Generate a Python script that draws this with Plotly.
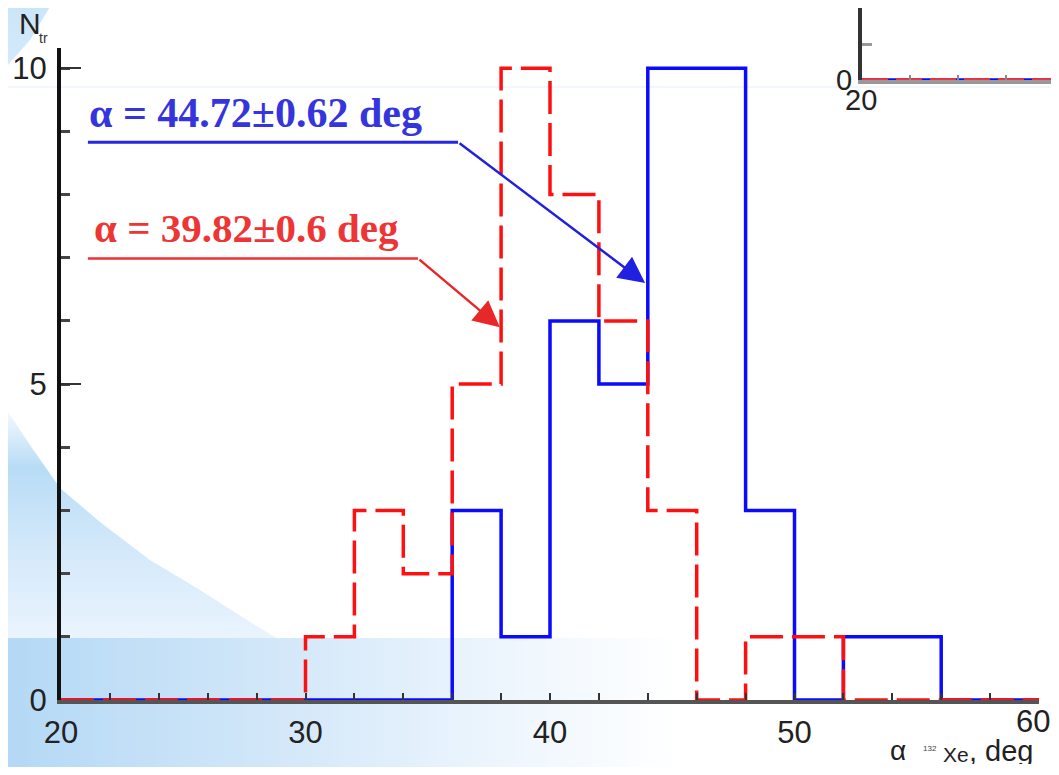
import plotly.graph_objects as go

# ---------------- data ----------------
bin_edges = [20, 22, 24, 26, 28, 30, 32, 34, 36, 38, 40, 42, 44, 46, 48, 50, 52, 54, 56, 58, 60]
blue_counts = [0, 0, 0, 0, 0, 0, 0, 0, 3, 1, 6, 5, 10, 10, 3, 0, 1, 1, 0, 0]
red_counts = [0, 0, 0, 0, 0, 1, 3, 2, 5, 10, 8, 6, 3, 0, 1, 1, 0, 0, 0, 0]

inset_edges = [20, 22, 24, 26, 28, 30]
inset_blue = [0, 0, 0, 0, 0]
inset_red = [0, 0, 0, 0, 0]

x_tick_vals = [20, 30, 40, 50, 60]
x_tick_text = ["20", "30", "40", "50", ""]   # "60" drawn as an edge-anchored label
last_x_label = "60"
y_tick_vals = [0, 5, 10]

blue_label = "α = 44.72±0.62 deg"
red_label = "α = 39.82±0.6 deg"
y_title_main, y_title_sub = "N", "tr"
x_title_parts = ["α", "132", "Xe", ", deg"]
inset_x_label = "20"

# page body has an 8px margin: lay the figure out in "screen" pixels, no overflow
OFF = 8
SW, SH = 1059, 775
FW, FH = SW - 2 * OFF, SH - 2 * OFF
BLUE = "#0a0aff"
RED = "#ff1010"


def px(sx):
    return (sx - OFF) / FW


def py(sy):
    return 1 - (sy - OFF) / FH


fig = go.Figure()

# ---------------- decorative slide background (screen-pixel space, subplot x/y) ----------------
def bg_poly(xs, ys, gtype, start, stop, cscale):
    fig.add_trace(go.Scatter(
        x=xs, y=ys, xaxis="x", yaxis="y", mode="lines", fill="toself",
        line=dict(width=0), hoverinfo="skip", showlegend=False,
        fillgradient=dict(type=gtype, start=start, stop=stop, colorscale=cscale)))

bg_poly([0, 54, 30, 0, 0], [0, 0, 40, 74, 0], "vertical", 0, 74,
        [[0, "#c9e4f9"], [1, "#d6ebfb"]])
sw_x = [0, 30, 60, 100, 150, 200, 250, 280, 0, 0]
sw_y = [400, 445, 488, 522, 560, 590, 622, 640, 640, 400]
bg_poly(sw_x, sw_y, "vertical", 400, 640,
        [[0, "#ffffff"], [0.28, "#b8dcf6"], [0.6, "#d2e8fa"], [1, "#eaf4fd"]])
bg_poly([0, 1059, 1059, 0, 0], [638, 638, 775, 775, 638], "horizontal", 0, 680,
        [[0, "#b3d8f5"], [0.4, "#d2e7f9"], [0.75, "#eef6fd"], [1, "#ffffff"]])
fig.add_trace(go.Scatter(x=[0, 1059], y=[87, 87], xaxis="x", yaxis="y", mode="lines",
                         line=dict(color="#e4f0fb", width=1.2), hoverinfo="skip",
                         showlegend=False))

# ---------------- main histogram (subplot x2/y2) ----------------
fig.add_trace(go.Scatter(
    x=bin_edges, y=blue_counts + [blue_counts[-1]], xaxis="x2", yaxis="y2",
    mode="lines", line=dict(shape="hv", color=BLUE, width=3.5), showlegend=False))
fig.add_trace(go.Scatter(
    x=bin_edges, y=red_counts + [red_counts[-1]], xaxis="x2", yaxis="y2",
    mode="lines", line=dict(shape="hv", color=RED, width=3.5, dash="33px,9px"),
    showlegend=False))

# ---------------- inset (subplot x3/y3) ----------------
fig.add_trace(go.Scatter(
    x=inset_edges, y=inset_blue + [inset_blue[-1]], xaxis="x3", yaxis="y3",
    mode="lines", line=dict(shape="hv", color=BLUE, width=3.5), showlegend=False))
fig.add_trace(go.Scatter(
    x=inset_edges, y=inset_red + [inset_red[-1]], xaxis="x3", yaxis="y3",
    mode="lines", line=dict(shape="hv", color="#ff3030", width=3.5, dash="26px,8px"),
    showlegend=False))

sans = "Liberation Sans, Arial, sans-serif"
serif = "Liberation Serif, Times New Roman, serif"
tickfont = dict(family=sans, size=31, color="#222222")

fig.update_layout(
    width=FW, height=FH, autosize=False,
    margin=dict(l=0, r=0, t=0, b=0, pad=0, autoexpand=False),
    paper_bgcolor="white", plot_bgcolor="rgba(0,0,0,0)",
    showlegend=False,
    xaxis=dict(domain=[0, 1], range=[OFF, OFF + FW], visible=False, fixedrange=True,
               automargin=False),
    yaxis=dict(domain=[0, 1], range=[OFF + FH, OFF], visible=False, fixedrange=True,
               automargin=False),
    xaxis2=dict(domain=[px(61), px(1039)], range=[20, 60], anchor="y2",
                automargin=False, ticklabeloverflow="allow",
                showline=True, linecolor="#555555", linewidth=4,
                showgrid=False, zeroline=False,
                tickmode="array", tickvals=x_tick_vals, ticktext=x_tick_text,
                ticks="inside", ticklen=7, tickwidth=2, tickcolor="#333333",
                minor=dict(dtick=2, ticks="inside", ticklen=7, tickwidth=2,
                           tickcolor="#333333", showgrid=False),
                tickfont=tickfont, ticklabelstandoff=2),
    yaxis2=dict(domain=[py(700), py(48)], range=[0, 10.32], anchor="x2",
                automargin=False,
                showline=True, linecolor="#111111", linewidth=4,
                showgrid=False, zeroline=False,
                tickmode="array", tickvals=y_tick_vals, ticks="inside",
                ticklen=20, tickwidth=2, tickcolor="#333333",
                minor=dict(dtick=1, ticks="inside", ticklen=9, tickwidth=2.5,
                           tickcolor="#444444", showgrid=False),
                tickfont=tickfont, ticklabelstandoff=4),
    xaxis3=dict(domain=[px(862), 1], range=[20, 20 + (OFF + FW - 862) / 24], anchor="y3",
                automargin=False,
                showline=True, linecolor="#999999", linewidth=4,
                showgrid=False, zeroline=False,
                tickmode="array", tickvals=[20, 22, 24, 26, 28],
                showticklabels=False, ticks="inside", ticklen=5,
                tickwidth=1.5, tickcolor="#888888"),
    yaxis3=dict(domain=[py(80), 1], range=[0, 2.0], anchor="x3",
                automargin=False,
                showline=True, linecolor="#333333", linewidth=4,
                showgrid=False, zeroline=False,
                tickmode="array", tickvals=[0, 1, 2], ticktext=["0", "", ""],
                ticks="inside", ticklen=10, tickwidth=3, tickcolor="#999999",
                tickfont=dict(family=sans, size=29, color="#222222"),
                ticklabelstandoff=0),
)

# ---------------- annotations ----------------
fig.add_shape(type="line", xref="x2", yref="y2", x0=21.10, x1=36.24, y0=8.83, y1=8.83,
              line=dict(color="#2626e6", width=3))
fig.add_shape(type="line", xref="x2", yref="y2", x0=21.10, x1=34.60, y0=6.99, y1=6.99,
              line=dict(color="#f03030", width=2.5))
fig.add_annotation(x=43.89, y=6.60, ax=36.24, ay=8.83, xref="x2", yref="y2",
                   axref="x2", ayref="y2", text="", showarrow=True, arrowhead=2,
                   arrowsize=2.1, arrowwidth=2.5, arrowcolor="#2020e0")
fig.add_annotation(x=37.95, y=5.90, ax=34.60, ay=6.99, xref="x2", yref="y2",
                   axref="x2", ayref="y2", text="", showarrow=True, arrowhead=2,
                   arrowsize=2.1, arrowwidth=2.5, arrowcolor="#e82828")
fig.add_annotation(x=21.05, y=9.29, xref="x2", yref="y2", text="<b>" + blue_label + "</b>",
                   showarrow=False, xanchor="left", yanchor="middle",
                   font=dict(family=serif, size=42, color="#3535dd"))
fig.add_annotation(x=21.25, y=7.47, xref="x2", yref="y2", text="<b>" + red_label + "</b>",
                   showarrow=False, xanchor="left", yanchor="middle",
                   font=dict(family=serif, size=41, color="#ee3535"))

# last main x tick label, kept inside the page edge
fig.add_annotation(x=1, y=py(721), xref="paper", yref="paper", text=last_x_label,
                   showarrow=False, xanchor="right", yanchor="middle", height=26,
                   borderpad=0, font=dict(family=sans, size=31, color="#222222"))
# inset x tick label
fig.add_annotation(x=px(861), y=py(100), xref="paper", yref="paper", text=inset_x_label,
                   showarrow=False, xanchor="center", yanchor="middle", height=24,
                   borderpad=0, font=dict(family=sans, size=29, color="#222222"))
# y-axis title N_tr
fig.add_annotation(x=px(17), y=py(24), xref="paper", yref="paper", text=y_title_main,
                   showarrow=False, xanchor="left", yanchor="middle",
                   font=dict(family=sans, size=30, color="#222222"))
fig.add_annotation(x=px(37), y=py(38), xref="paper", yref="paper", text=y_title_sub,
                   showarrow=False, xanchor="left", yanchor="middle",
                   font=dict(family=sans, size=14, color="#333333"))
# x-axis title  α_{132Xe}, deg
fig.add_annotation(x=px(888), y=py(750), xref="paper", yref="paper", text=x_title_parts[0],
                   showarrow=False, xanchor="left", yanchor="middle",
                   font=dict(family=sans, size=28, color="#222222"))
fig.add_annotation(x=px(921), y=py(748), xref="paper", yref="paper", text=x_title_parts[1],
                   showarrow=False, xanchor="left", yanchor="middle",
                   font=dict(family=sans, size=8, color="#444444"))
fig.add_annotation(x=px(941), y=py(754), xref="paper", yref="paper", text=x_title_parts[2],
                   showarrow=False, xanchor="left", yanchor="middle",
                   font=dict(family=sans, size=21, color="#222222"))
fig.add_annotation(x=px(968), y=py(751), xref="paper", yref="paper", text=x_title_parts[3],
                   showarrow=False, xanchor="left", yanchor="middle", height=26,
                   borderpad=0, font=dict(family=sans, size=29, color="#222222"))

fig.write_html("out.html")
